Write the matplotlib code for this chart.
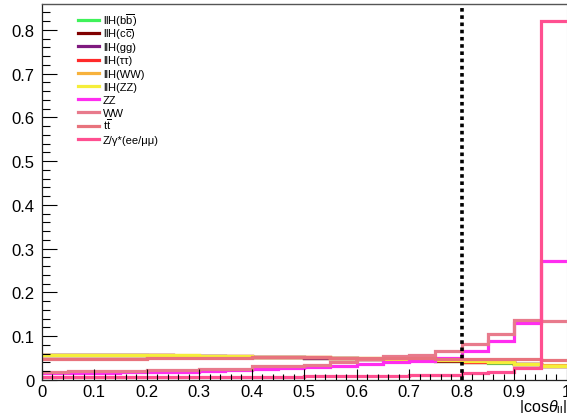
import numpy as np
import matplotlib
matplotlib.use("Agg")
import matplotlib.pyplot as plt
from matplotlib.ticker import MultipleLocator
from matplotlib.lines import Line2D

plt.rcParams['font.family'] = ['Liberation Sans', 'DejaVu Sans']
plt.rcParams['mathtext.fontset'] = 'custom'
plt.rcParams['mathtext.rm'] = 'Liberation Sans'
plt.rcParams['mathtext.it'] = 'Liberation Sans:italic'
plt.rcParams['mathtext.bf'] = 'Liberation Sans:bold'

# |cos(theta_ll)| binning: 20 bins of width 0.05
bin_edges = np.linspace(0.0, 1.0, 21)

# normalised distributions per process
llH_bb = [0.057, 0.057, 0.056, 0.056, 0.055, 0.055, 0.054, 0.053, 0.052, 0.052,
          0.051, 0.050, 0.049, 0.048, 0.046, 0.044, 0.042, 0.039, 0.036, 0.032]
llH_cc = [0.057, 0.057, 0.057, 0.056, 0.056, 0.055, 0.054, 0.053, 0.053, 0.052,
          0.051, 0.050, 0.049, 0.048, 0.046, 0.044, 0.042, 0.040, 0.036, 0.032]
llH_gg = [0.058, 0.057, 0.057, 0.056, 0.056, 0.055, 0.055, 0.054, 0.053, 0.052,
          0.051, 0.050, 0.049, 0.048, 0.047, 0.045, 0.043, 0.040, 0.037, 0.033]
llH_tautau = [0.057, 0.058, 0.057, 0.057, 0.056, 0.055, 0.055, 0.054, 0.053, 0.052,
              0.052, 0.050, 0.049, 0.048, 0.047, 0.045, 0.042, 0.040, 0.036, 0.033]
llH_WW = [0.058, 0.058, 0.057, 0.057, 0.056, 0.056, 0.055, 0.054, 0.053, 0.053,
          0.052, 0.051, 0.050, 0.049, 0.047, 0.045, 0.043, 0.041, 0.037, 0.034]
llH_ZZ = [0.058, 0.058, 0.057, 0.057, 0.056, 0.056, 0.055, 0.054, 0.053, 0.053,
          0.052, 0.051, 0.050, 0.049, 0.047, 0.045, 0.043, 0.040, 0.037, 0.032]
bkg_ZZ = [0.015, 0.016, 0.017, 0.018, 0.018, 0.019, 0.021, 0.022, 0.026, 0.028,
          0.030, 0.033, 0.037, 0.042, 0.044, 0.050, 0.067, 0.088, 0.130, 0.271]
bkg_WW = [0.018, 0.020, 0.021, 0.021, 0.022, 0.022, 0.025, 0.026, 0.031, 0.032,
          0.034, 0.040, 0.048, 0.054, 0.056, 0.066, 0.082, 0.105, 0.136, 0.135]
bkg_tt = [0.047, 0.048, 0.049, 0.049, 0.050, 0.050, 0.051, 0.051, 0.052, 0.052,
          0.052, 0.051, 0.051, 0.050, 0.050, 0.049, 0.049, 0.048, 0.047, 0.046]
bkg_Zgamma = [0.006, 0.006, 0.006, 0.006, 0.006, 0.006, 0.007, 0.007, 0.007, 0.007,
              0.008, 0.008, 0.009, 0.010, 0.011, 0.012, 0.016, 0.018, 0.028, 0.820]

labels = [r'llH(b$\overline{\mathrm{b}}$)', r'llH(c$\overline{\mathrm{c}}$)', 'llH(gg)',
          'llH(ττ)', 'llH(WW)', 'llH(ZZ)', 'ZZ', 'WW',
          r't$\overline{\mathrm{t}}$', 'Z/γ*(ee/μμ)']
colors = ['#3ff25a', '#800000', '#7f1a7f', '#ff2a2a', '#f7b23c', '#f5ee3a',
          '#ff2df0', '#e87a8c', '#e8737d', '#ff4f90']
series = [llH_bb, llH_cc, llH_gg, llH_tautau, llH_WW, llH_ZZ,
          bkg_ZZ, bkg_WW, bkg_tt, bkg_Zgamma]

cut_value = 0.8

W, H = 567, 414
fig = plt.figure(figsize=(W / 100, H / 100), dpi=100)
x0, x1, y0, y1 = 41.5, 566.8, 381.0, 5.0
ax = fig.add_axes([x0 / W, 1 - y0 / H, (x1 - x0) / W, (y0 - y1) / H])

for vals, col, lab in zip(series, colors, labels):
    ax.stairs(vals, bin_edges, color=col, linewidth=2.3, label=lab, baseline=None)

ax.axvline(cut_value, color='black', linestyle=(0, (1.0, 1.0)), linewidth=2.6)

ax.set_xlim(0, 1)
ax.set_ylim(0, 0.859)

ax.xaxis.set_major_locator(MultipleLocator(0.1))
ax.xaxis.set_minor_locator(MultipleLocator(0.02))
ax.yaxis.set_major_locator(MultipleLocator(0.1))
ax.yaxis.set_minor_locator(MultipleLocator(0.02))
ax.xaxis.set_major_formatter(plt.FuncFormatter(lambda v, p: f'{v:g}'))
ax.yaxis.set_major_formatter(plt.FuncFormatter(lambda v, p: f'{v:g}'))

ax.tick_params(axis='x', which='major', direction='in', length=8, width=0.8,
               labelsize=12, pad=3)
ax.tick_params(axis='x', which='minor', direction='in', length=4, width=0.8)
ax.tick_params(axis='y', which='major', direction='in', length=11, width=0.8,
               labelsize=12, pad=5)
ax.tick_params(axis='y', which='minor', direction='in', length=5.5, width=0.8)

for side in ['left', 'bottom']:
    ax.spines[side].set_linewidth(0.9)
    ax.spines[side].set_color('#222222')
ax.spines['top'].set_color('#555555')
ax.spines['top'].set_linewidth(1.0)
ax.spines['right'].set_color('#cccccc')

fig.text(1.0, 1 - 398.5 / H, r'|cos$\theta_{\mathrm{ll}}$|',
         ha='right', va='top', fontsize=11.5)

# legend entries laid out in figure pixels
px = lambda x: x / W
py = lambda y: 1 - y / H
for i, (col, lab) in enumerate(zip(colors, labels)):
    yc = 21 + 13.2 * i
    fig.add_artist(Line2D([px(78), px(99)], [py(yc), py(yc)], color=col,
                          linewidth=2.3, transform=fig.transFigure))
    fig.text(px(103), py(yc + 3.9), lab, ha='left', va='baseline', fontsize=8)

fig.savefig('out.png', dpi=100)
